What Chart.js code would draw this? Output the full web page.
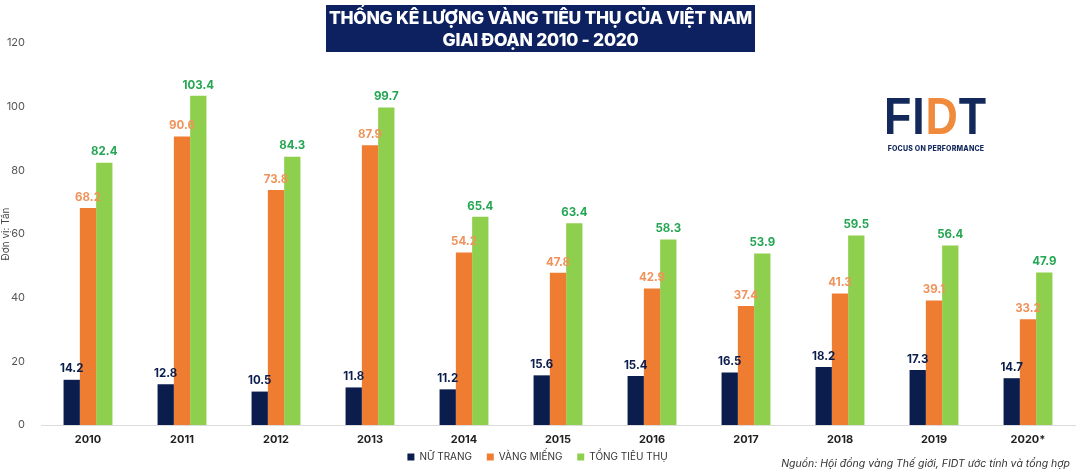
<!DOCTYPE html>
<html>
<head>
<meta charset="utf-8">
<script src="https://cdn.jsdelivr.net/npm/chart.js@4.4.1/dist/chart.umd.min.js"></script>
<style>
  html, body { margin: 0; padding: 0; background: #fff; }
  #wrap { position: relative; width: 1080px; height: 472px; overflow: hidden; font-family: Inter, "Noto Sans", sans-serif; }
  #c { position: absolute; left: 0; top: 0; }
  #title { position: absolute; left: 326px; top: 5px; width: 429px; height: 47px; background: #0d2060;
           color: #fff; font-weight: 800; font-size: 17.5px; line-height: 22px; text-align: center;
           padding-top: 2px; box-sizing: border-box; letter-spacing: -0.3px; }
  #logo { position: absolute; left: 884px; top: 91px; width: 104px; }
  #logo .big { font-family: "Liberation Sans", Arial, sans-serif; font-weight: 900; font-size: 52px; line-height: 50px; color: #13295b; letter-spacing: 1px; transform: scaleX(0.86); transform-origin: left top; white-space: nowrap; }
  #logo .big span { color: #f08a3c; }
  #logo .small { font-weight: 800; font-size: 7px; color: #13295b; letter-spacing: 0.2px; margin-top: 3px; text-align: center; white-space: nowrap; }
  #src { position: absolute; right: 10px; top: 457px; font-style: italic; font-size: 10.5px; color: #333; }
</style>
</head>
<body>
<div id="wrap">
  <canvas id="c" width="1080" height="472"></canvas>
  <div id="title">THỐNG KÊ LƯỢNG VÀNG TIÊU THỤ CỦA VIỆT NAM<br>GIAI ĐOẠN 2010 - 2020</div>
  <div id="logo"><div class="big">FI<span>D</span>T</div><div class="small">FOCUS ON PERFORMANCE</div></div>
  <div id="src">Nguồn: Hội đồng vàng Thế giới, FIDT ước tính và tổng hợp</div>
</div>
<script>
const categories = ["2010","2011","2012","2013","2014","2015","2016","2017","2018","2019","2020*"];
const nuTrang   = [14.2, 12.8, 10.5, 11.8, 11.2, 15.6, 15.4, 16.5, 18.2, 17.3, 14.7];
const vangMieng = [68.2, 90.6, 73.8, 87.9, 54.2, 47.8, 42.9, 37.4, 41.3, 39.1, 33.2];
const tongTieuThu = [82.4, 103.4, 84.3, 99.7, 65.4, 63.4, 58.3, 53.9, 59.5, 56.4, 47.9];
const seriesNames = ["NỮ TRANG", "VÀNG MIẾNG", "TỔNG TIÊU THỤ"];
const yTicks = [0, 20, 40, 60, 80, 100, 120];

const barColors = ["#0b1d4d", "#ee7d31", "#8fcf4e"];
const labelColors = ["#0b1d4d", "#f0935a", "#24a653"];
const FONT = "Inter, 'Noto Sans', sans-serif";

const valueLabels = {
  id: 'valueLabels',
  afterDatasetsDraw(chart) {
    const ctx = chart.ctx;
    ctx.save();
    ctx.font = "bold 11.5px " + FONT;
    ctx.textAlign = 'center';
    ctx.textBaseline = 'bottom';
    chart.data.datasets.forEach((ds, i) => {
      const meta = chart.getDatasetMeta(i);
      ctx.fillStyle = labelColors[i];
      meta.data.forEach((el, j) => {
        ctx.fillText(ds.data[j].toFixed(1), el.x, el.y - 5);
      });
    });
    ctx.restore();
  }
};

new Chart(document.getElementById('c'), {
  type: 'bar',
  data: {
    labels: categories,
    datasets: [
      { label: seriesNames[0], data: nuTrang, backgroundColor: barColors[0] },
      { label: seriesNames[1], data: vangMieng, backgroundColor: barColors[1] },
      { label: seriesNames[2], data: tongTieuThu, backgroundColor: barColors[2] }
    ]
  },
  options: {
    responsive: false,
    animation: false,
    layout: { padding: { top: 43, right: 5, left: 0, bottom: 0 } },
    datasets: { bar: { categoryPercentage: 0.52, barPercentage: 1.0 } },
    plugins: {
      legend: {
        position: 'bottom',
        labels: {
          boxWidth: 7, boxHeight: 7, padding: 8, color: '#333', font: { family: FONT, size: 10 },
          generateLabels(chart) {
            const items = Chart.defaults.plugins.legend.labels.generateLabels(chart);
            items.forEach((it, i) => { if (i < items.length - 1) it.text = it.text + '\u2002\u2009'; });
            return items;
          }
        }
      },
      tooltip: { enabled: false }
    },
    scales: {
      x: {
        grid: { display: false },
        border: { display: true, color: '#dcdcdc' },
        ticks: { color: '#222', font: { family: FONT, size: 11, weight: 'bold' }, padding: 0 },
        afterFit(s) { s.height = 19; }
      },
      y: {
        min: 0, max: 120,
        afterBuildTicks(s) { s.ticks = yTicks.map(v => ({ value: v })); },
        grid: { display: false },
        border: { display: false },
        ticks: { color: '#555', font: { family: FONT, size: 11 }, padding: 8 },
        title: { display: true, text: 'Đơn vị: Tấn', color: '#444', font: { family: FONT, size: 10 }, padding: 0 },
        afterFit(s) { s.width = 41; }
      }
    }
  },
  plugins: [valueLabels]
});
</script>
</body>
</html>
